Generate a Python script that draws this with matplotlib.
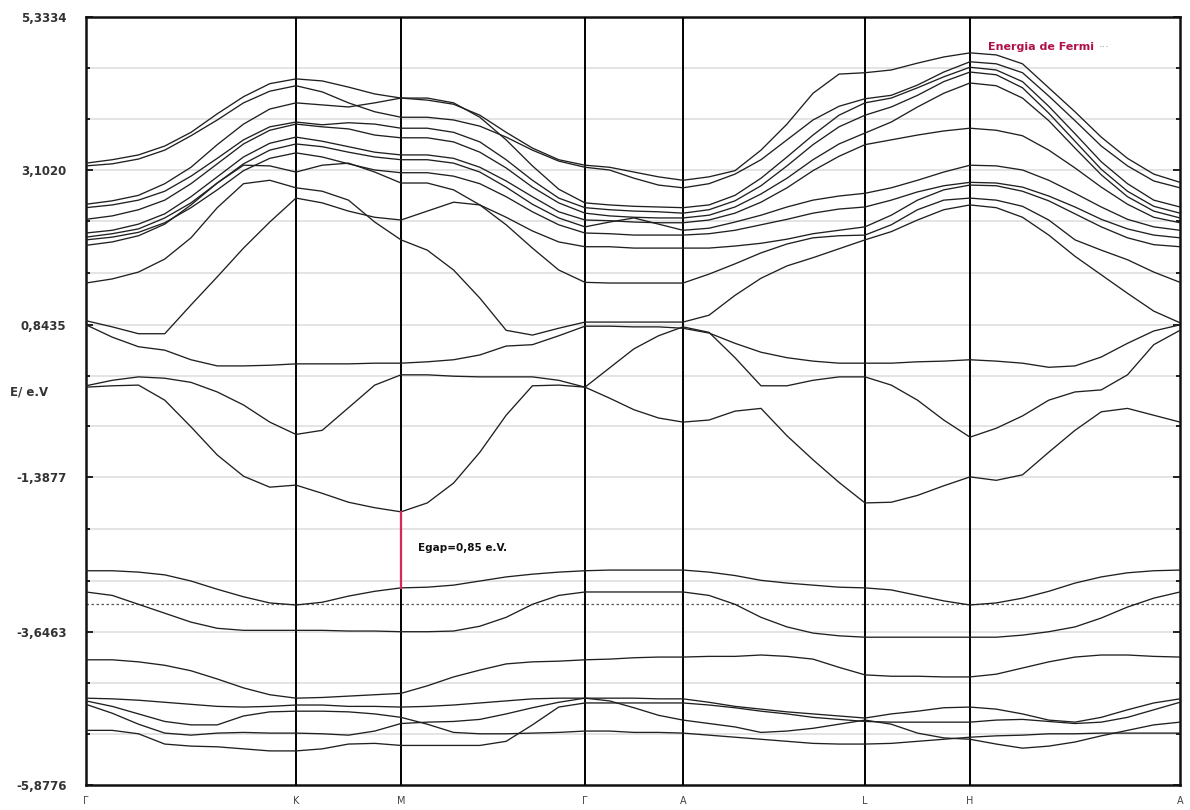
import numpy as np
import matplotlib
matplotlib.use("Agg")
import matplotlib.pyplot as plt

# ---------------- data ----------------
k_labels = ["Γ", "K", "M", "Γ", "A", "L", "H", "A"]
k_nodes = [0, 210, 315, 499, 597, 779, 884, 1094]      # path length of the high-symmetry points
seg_samples = [8, 4, 7, 4, 7, 4, 8]                     # k samples per segment

y_ticks = [5.3334, 3.1020, 0.8435, -1.3877, -3.6463, -5.8776]
y_tick_labels = ["5,3334", "3,1020", "0,8435", "-1,3877", "-3,6463", "-5,8776"]
e_fermi = -3.24

# band energies (eV) at the k samples: segments G-K | K-M | M-G | G-A | A-L | L-H | H-A
L1 = [-2.75,-2.75,-2.77,-2.81,-2.90,-3.02,-3.13,-3.22,-3.25, -3.21,-3.12,-3.05,-3.00,
      -2.99,-2.96,-2.90,-2.84,-2.80,-2.77,-2.75, -2.74,-2.74,-2.74,-2.74,
      -2.77,-2.82,-2.89,-2.93,-2.96,-2.99,-3.00, -3.03,-3.11,-3.19,-3.25,
      -3.22,-3.15,-3.05,-2.93,-2.84,-2.78,-2.75,-2.74]
L2 = [-3.06,-3.11,-3.24,-3.37,-3.50,-3.59,-3.62,-3.62,-3.62, -3.62,-3.63,-3.63,-3.64,
      -3.64,-3.63,-3.56,-3.43,-3.24,-3.11,-3.06, -3.06,-3.06,-3.06,-3.06,
      -3.11,-3.24,-3.43,-3.57,-3.66,-3.70,-3.72, -3.72,-3.72,-3.72,-3.72,
      -3.72,-3.69,-3.64,-3.57,-3.44,-3.28,-3.15,-3.06]
L3 = [-4.05,-4.05,-4.08,-4.13,-4.21,-4.33,-4.46,-4.56,-4.61, -4.60,-4.58,-4.56,-4.54,
      -4.43,-4.30,-4.20,-4.11,-4.08,-4.07,-4.05, -4.04,-4.02,-4.01,-4.01,
      -4.00,-4.00,-3.98,-4.00,-4.04,-4.16,-4.27, -4.29,-4.29,-4.30,-4.30,
      -4.26,-4.17,-4.08,-4.01,-3.98,-3.98,-4.00,-4.01]
B4 = [-4.61,-4.62,-4.64,-4.67,-4.70,-4.73,-4.74,-4.73,-4.71, -4.71,-4.73,-4.73,-4.74,
      -4.73,-4.71,-4.68,-4.65,-4.62,-4.61,-4.61, -4.61,-4.61,-4.62,-4.62,
      -4.67,-4.73,-4.77,-4.81,-4.84,-4.87,-4.90, -4.84,-4.80,-4.75,-4.74,
      -4.77,-4.84,-4.93,-4.96,-4.89,-4.78,-4.68,-4.62]
B5 = [-4.65,-4.73,-4.84,-4.95,-5.00,-5.00,-4.87,-4.81,-4.80, -4.80,-4.81,-4.84,-4.89,
      -4.99,-5.11,-5.13,-5.13,-5.12,-5.11,-5.09, -5.09,-5.11,-5.11,-5.12,
      -5.15,-5.18,-5.21,-5.24,-5.27,-5.28,-5.28, -5.27,-5.24,-5.21,-5.18,
      -5.16,-5.15,-5.13,-5.13,-5.12,-5.12,-5.12,-5.12]
B6 = [-4.70,-4.83,-4.99,-5.12,-5.15,-5.12,-5.11,-5.12,-5.12, -5.13,-5.15,-5.09,-4.98,
      -4.96,-4.95,-4.92,-4.84,-4.75,-4.67,-4.61, -4.65,-4.75,-4.86,-4.93,
      -4.98,-5.03,-5.11,-5.09,-5.05,-4.99,-4.93, -4.99,-5.12,-5.19,-5.21,
      -5.28,-5.34,-5.31,-5.25,-5.16,-5.08,-5.00,-4.96]
B7 = [-5.08,-5.08,-5.13,-5.28,-5.31,-5.32,-5.35,-5.38,-5.38, -5.35,-5.28,-5.27,-5.30,
      -5.30,-5.30,-5.30,-5.24,-5.00,-4.74,-4.68, -4.68,-4.68,-4.68,-4.68,
      -4.71,-4.75,-4.80,-4.84,-4.89,-4.92,-4.95, -4.96,-4.96,-4.96,-4.96,
      -4.93,-4.92,-4.95,-4.98,-4.96,-4.89,-4.78,-4.67]
C1 = [-0.07,-0.05,-0.04,-0.26,-0.65,-1.06,-1.37,-1.53,-1.50, -1.62,-1.75,-1.83,-1.89,
      -1.76,-1.47,-1.02,-0.48,-0.05,-0.04,-0.07, 0.21,0.49,0.68,0.81,
      0.73,0.36,-0.05,-0.05,0.03,0.08,0.08, -0.04,-0.26,-0.55,-0.80,
      -0.67,-0.49,-0.26,-0.14,-0.11,0.11,0.55,0.76]
C2 = [-0.05,0.03,0.08,0.06,0.00,-0.14,-0.33,-0.58,-0.76, -0.70,-0.37,-0.04,0.11,
      0.11,0.09,0.08,0.08,0.08,0.03,-0.07, -0.23,-0.40,-0.52,-0.58,
      -0.55,-0.42,-0.38,-0.78,-1.13,-1.46,-1.76, -1.75,-1.65,-1.51,-1.38,
      -1.43,-1.35,-1.02,-0.70,-0.43,-0.38,-0.48,-0.58]
C3 = [0.84,0.66,0.52,0.47,0.33,0.24,0.24,0.25,0.27, 0.27,0.27,0.28,0.28,
      0.30,0.33,0.40,0.53,0.55,0.68,0.82, 0.82,0.81,0.81,0.79,
      0.72,0.57,0.44,0.36,0.31,0.28,0.28, 0.28,0.30,0.31,0.33,
      0.31,0.28,0.22,0.24,0.37,0.57,0.75,0.84]
C4 = [0.90,0.81,0.71,0.71,1.13,1.54,1.96,2.34,2.69, 2.62,2.50,2.41,2.37,
      2.50,2.63,2.59,2.41,2.21,2.05,1.98, 1.98,1.96,1.96,1.96,
      1.96,1.99,2.03,2.09,2.17,2.22,2.27, 2.44,2.66,2.81,2.88,
      2.87,2.79,2.65,2.46,2.27,2.11,2.01,1.98]
C5 = [1.45,1.51,1.61,1.80,2.11,2.55,2.90,2.95,2.84, 2.79,2.66,2.34,2.08,
      1.93,1.64,1.23,0.76,0.69,0.79,0.88, 0.88,0.88,0.88,0.88,
      0.98,1.27,1.52,1.70,1.82,1.95,2.08, 2.20,2.37,2.52,2.59,
      2.55,2.41,2.15,1.84,1.57,1.30,1.04,0.87]
U9 = [2.00,2.05,2.14,2.31,2.59,2.91,3.17,3.16,3.07, 3.17,3.20,3.07,2.91,
      2.91,2.81,2.59,2.30,1.96,1.64,1.46, 1.45,1.45,1.45,1.45,
      1.58,1.73,1.89,2.02,2.11,2.14,2.15, 2.30,2.52,2.66,2.69,
      2.66,2.57,2.37,2.08,1.93,1.79,1.61,1.46]
U8 = [2.08,2.12,2.19,2.33,2.55,2.81,3.09,3.27,3.35, 3.29,3.19,3.10,3.06,
      3.06,3.01,2.90,2.71,2.49,2.30,2.18, 2.17,2.15,2.15,2.15,
      2.17,2.22,2.30,2.38,2.47,2.53,2.56, 2.66,2.78,2.87,2.92,
      2.91,2.85,2.72,2.56,2.38,2.24,2.15,2.11]
U7 = [2.12,2.17,2.24,2.40,2.62,2.91,3.19,3.39,3.48, 3.44,3.36,3.29,3.25,
      3.25,3.20,3.07,2.85,2.60,2.40,2.27, 2.34,2.40,2.31,2.22,
      2.25,2.34,2.44,2.56,2.66,2.72,2.76, 2.84,2.95,3.07,3.17,
      3.16,3.10,2.95,2.76,2.56,2.38,2.27,2.22]
U6 = [2.18,2.22,2.31,2.46,2.71,3.00,3.29,3.49,3.58, 3.52,3.44,3.36,3.32,
      3.32,3.27,3.14,2.94,2.71,2.49,2.37, 2.36,2.34,2.33,2.33,
      2.37,2.47,2.63,2.84,3.09,3.30,3.47, 3.54,3.61,3.67,3.71,
      3.68,3.60,3.39,3.13,2.85,2.60,2.41,2.33]
U5 = [2.38,2.43,2.52,2.66,2.90,3.19,3.48,3.68,3.77, 3.73,3.70,3.61,3.57,
      3.57,3.51,3.36,3.13,2.85,2.62,2.47, 2.43,2.41,2.40,2.40,
      2.44,2.56,2.75,2.98,3.25,3.48,3.64, 3.80,4.02,4.22,4.37,
      4.33,4.15,3.82,3.42,3.03,2.71,2.50,2.40]
U4 = [2.55,2.59,2.66,2.79,3.01,3.27,3.54,3.73,3.80, 3.76,3.79,3.77,3.71,
      3.71,3.65,3.51,3.25,2.95,2.69,2.55, 2.52,2.50,2.49,2.47,
      2.52,2.65,2.87,3.16,3.47,3.73,3.90, 4.02,4.19,4.39,4.53,
      4.49,4.30,3.93,3.52,3.11,2.79,2.57,2.47]
U3 = [2.60,2.65,2.73,2.90,3.14,3.47,3.77,3.99,4.08, 4.05,4.02,4.08,4.15,
      4.15,4.08,3.87,3.54,3.16,2.82,2.62, 2.59,2.57,2.56,2.55,
      2.59,2.73,2.98,3.29,3.61,3.90,4.08, 4.15,4.30,4.46,4.60,
      4.56,4.39,4.03,3.63,3.22,2.90,2.66,2.56]
U2 = [3.16,3.19,3.26,3.39,3.60,3.83,4.08,4.25,4.33, 4.24,4.08,3.95,3.87,
      3.87,3.83,3.74,3.58,3.39,3.23,3.14, 3.10,2.98,2.88,2.84,
      2.90,3.04,3.25,3.54,3.83,4.03,4.14, 4.19,4.34,4.53,4.68,
      4.65,4.52,4.18,3.82,3.45,3.16,2.94,2.84]
U1 = [3.20,3.25,3.32,3.45,3.65,3.92,4.17,4.36,4.43, 4.40,4.31,4.21,4.15,
      4.12,4.06,3.90,3.65,3.42,3.25,3.17, 3.14,3.07,3.00,2.95,
      3.00,3.09,3.39,3.77,4.22,4.50,4.52, 4.56,4.66,4.75,4.81,
      4.78,4.65,4.30,3.95,3.58,3.27,3.04,2.92]

bands = [L1, L2, L3, B4, B5, B6, B7, C1, C2, C3, C4, C5,
         U9, U8, U7, U6, U5, U4, U3, U2, U1]

# ---------------- k sampling along the path ----------------
k = [k_nodes[0]]
for i, n in enumerate(seg_samples):
    k.extend(np.linspace(k_nodes[i], k_nodes[i + 1], n + 1)[1:])
k = np.array(k)
i_M = seg_samples[0] + seg_samples[1]

# ---------------- figure ----------------
fig = plt.figure(figsize=(11.9, 8.1), dpi=100)
ax = fig.add_axes([86 / 1190, 1 - 785 / 810, (1180 - 86) / 1190, (785 - 17) / 810])

ymin, ymax = y_ticks[-1], y_ticks[0]
ax.set_xlim(k_nodes[0], k_nodes[-1])
ax.set_ylim(ymin, ymax)

# grid (major + 2 minor lines between majors)
minor = []
for a, b in zip(y_ticks[:-1], y_ticks[1:]):
    minor += [a + (b - a) / 3, a + 2 * (b - a) / 3]
for yv in y_ticks[1:-1] + minor:
    ax.axhline(yv, color="#dcdcdc", lw=1.1, zorder=1)

ax.set_yticks(y_ticks)
ax.set_yticklabels(y_tick_labels)
ax.set_yticks(minor, minor=True)
ax.tick_params(axis="y", which="both", direction="in", left=True, right=True,
               labelsize=8.5, labelcolor="#333333", width=1.2, pad=14)
ax.tick_params(axis="y", which="major", length=5)
ax.tick_params(axis="y", which="minor", length=3)
for lab in ax.get_yticklabels():
    lab.set_fontweight("bold")

ax.set_xticks(k_nodes)
ax.set_xticklabels(k_labels)
ax.tick_params(axis="x", length=0, pad=8, labelsize=7, labelcolor="#444444")

for kv in k_nodes[1:-1]:
    ax.axvline(kv, color="black", lw=1.4, zorder=3)

for b in bands:
    ax.plot(k, b, color="#202020", lw=0.95, zorder=4)

# Fermi level
ax.axhline(e_fermi, color="#555555", lw=0.9, ls=(0, (2, 2)), zorder=2)

# energy gap marker at M
ax.plot([k_nodes[2], k_nodes[2]], [L1[i_M], C1[i_M]], color="#d8285a", lw=1.6, zorder=5)
ax.text(k_nodes[2] + 17, -2.42, "Egap=0,85 e.V.", fontsize=7.5, fontweight="bold",
        color="#111111", va="center", ha="left", zorder=6)

ax.text(902, 4.89, "Energia de Fermi", fontsize=8, fontweight="bold",
        color="#b0104a", va="center", ha="left", zorder=6)
ax.text(1013, 4.89, "···", fontsize=8, color="#999999", va="center", ha="left", zorder=6)

for s in ax.spines.values():
    s.set_linewidth(1.8)
    s.set_color("#111111")

fig.text(10 / 1190, 1 - 392 / 810, "E/ e.V", fontsize=8.5, fontweight="bold",
         color="#333333", va="center", ha="left")

fig.savefig("out.png", dpi=100, facecolor="white")
